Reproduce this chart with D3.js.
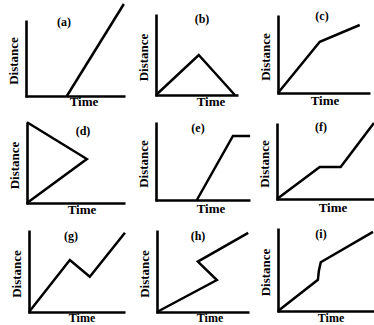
<!DOCTYPE html>
<html>
<head>
<meta charset="utf-8">
<script src="https://cdn.jsdelivr.net/npm/d3@7"></script>
<style>
  html, body { margin: 0; padding: 0; background: #fff; }
  svg { display: block; }
  text { font-family: "Liberation Serif", "Times New Roman", serif; font-weight: bold; fill: #000; }
</style>
</head>
<body>
<svg id="chart" width="374" height="325"></svg>
<script>
// Panel names and the (time, distance) path of each motion, in plot units (0–10)
const panelNames = ["(a)", "(b)", "(c)", "(d)", "(e)", "(f)", "(g)", "(h)", "(i)"];
const pathA = [[4.3, 0], [10.3, 11.5]];
const pathB = [[0, 0], [4.5, 5.0], [8.3, 0]];
const pathC = [[0, 0], [4.4, 6.4], [8.6, 8.5]];
const pathD = [[0, 10.1], [6.3, 5.5], [0, 0]];
const pathE = [[4.3, 0], [8.1, 8.0], [9.9, 8.0]];
const pathF = [[0, 0], [4.5, 4.0], [6.7, 4.0], [10.2, 9.5]];
const pathG = [[0, 0], [4.3, 6.5], [6.4, 4.4], [10.1, 9.9]];
const pathH = [[0, 0], [6.3, 4.0], [4.3, 6.3], [9.6, 9.9]];
const pathI = [[0, 0], [4.2, 3.9], [4.3, 5.0], [4.5, 6.1], [10.0, 9.9]];
const paths = [pathA, pathB, pathC, pathD, pathE, pathF, pathG, pathH, pathI];
const xLabel = "Time";
const yLabel = "Distance";

// Layout of each small plot: axis origin, axis ends, and label anchors
const layout = [
  { ox: 26,  oy: 96,  top: 20,  right: 125, tx: 64,  ty: 26,  lx: 84,  ly: 106, fs: 13 },
  { ox: 156, oy: 95,  top: 14,  right: 238, tx: 202, ty: 23,  lx: 211, ly: 106, fs: 13 },
  { ox: 278, oy: 93,  top: 15,  right: 370, tx: 322, ty: 20,  lx: 325, ly: 105, fs: 13 },
  { ox: 27,  oy: 203, top: 122, right: 125, tx: 83,  ty: 135, lx: 82,  ly: 214, fs: 13 },
  { ox: 156, oy: 200, top: 122, right: 250, tx: 198, ty: 132, lx: 211, ly: 213, fs: 13 },
  { ox: 277, oy: 199, top: 123, right: 374, tx: 321, ty: 131, lx: 333, ly: 212, fs: 13 },
  { ox: 29,  oy: 312, top: 230, right: 125, tx: 71,  ty: 240, lx: 82,  ly: 322, fs: 12 },
  { ox: 157, oy: 312, top: 230, right: 249, tx: 198, ty: 240, lx: 210, ly: 322, fs: 12 },
  { ox: 278, oy: 311, top: 228, right: 374, tx: 321, ty: 238, lx: 331, ly: 322, fs: 12 }
];
const plotW = 95, plotH = 80;

const svg = d3.select("#chart");

paths.forEach((pts, i) => {
  const L = layout[i];
  const x = d3.scaleLinear().domain([0, 10]).range([L.ox, L.ox + plotW]);
  const y = d3.scaleLinear().domain([0, 10]).range([L.oy, L.oy - plotH]);
  const g = svg.append("g");

  // axes: plain heavy lines without ticks, running from the origin to each axis end
  const xScaleAxis = x.copy().domain([0, x.invert(L.right)]).range([L.ox - 1, L.right]);
  const yScaleAxis = y.copy().domain([0, y.invert(L.top)]).range([L.oy + 1, L.top]);
  g.append("g").attr("transform", `translate(0,${L.oy})`)
    .call(d3.axisBottom(xScaleAxis).tickValues([]).tickSizeOuter(0))
    .select(".domain").attr("stroke", "#000").attr("stroke-width", 2.6);
  g.append("g").attr("transform", `translate(${L.ox},0)`)
    .call(d3.axisLeft(yScaleAxis).tickValues([]).tickSizeOuter(0))
    .select(".domain").attr("stroke", "#000").attr("stroke-width", 2.6);

  // motion path
  g.append("path")
    .datum(pts)
    .attr("fill", "none")
    .attr("stroke", "#000")
    .attr("stroke-width", 2.5)
    .attr("stroke-linejoin", "miter")
    .attr("d", d3.line().x(d => x(d[0])).y(d => y(d[1])));

  // panel name
  g.append("text")
    .attr("x", L.tx).attr("y", L.ty)
    .attr("text-anchor", "middle")
    .attr("font-size", 12)
    .text(panelNames[i]);

  // axis titles
  g.append("text")
    .attr("x", L.lx).attr("y", L.ly)
    .attr("text-anchor", "middle")
    .attr("font-size", L.fs)
    .text(xLabel);
  g.append("text")
    .attr("transform", `translate(${L.ox - 8},${(L.oy + L.top) / 2 + 3}) rotate(-90)`)
    .attr("text-anchor", "middle")
    .attr("font-size", 13)
    .text(yLabel);
});
</script>
</body>
</html>
